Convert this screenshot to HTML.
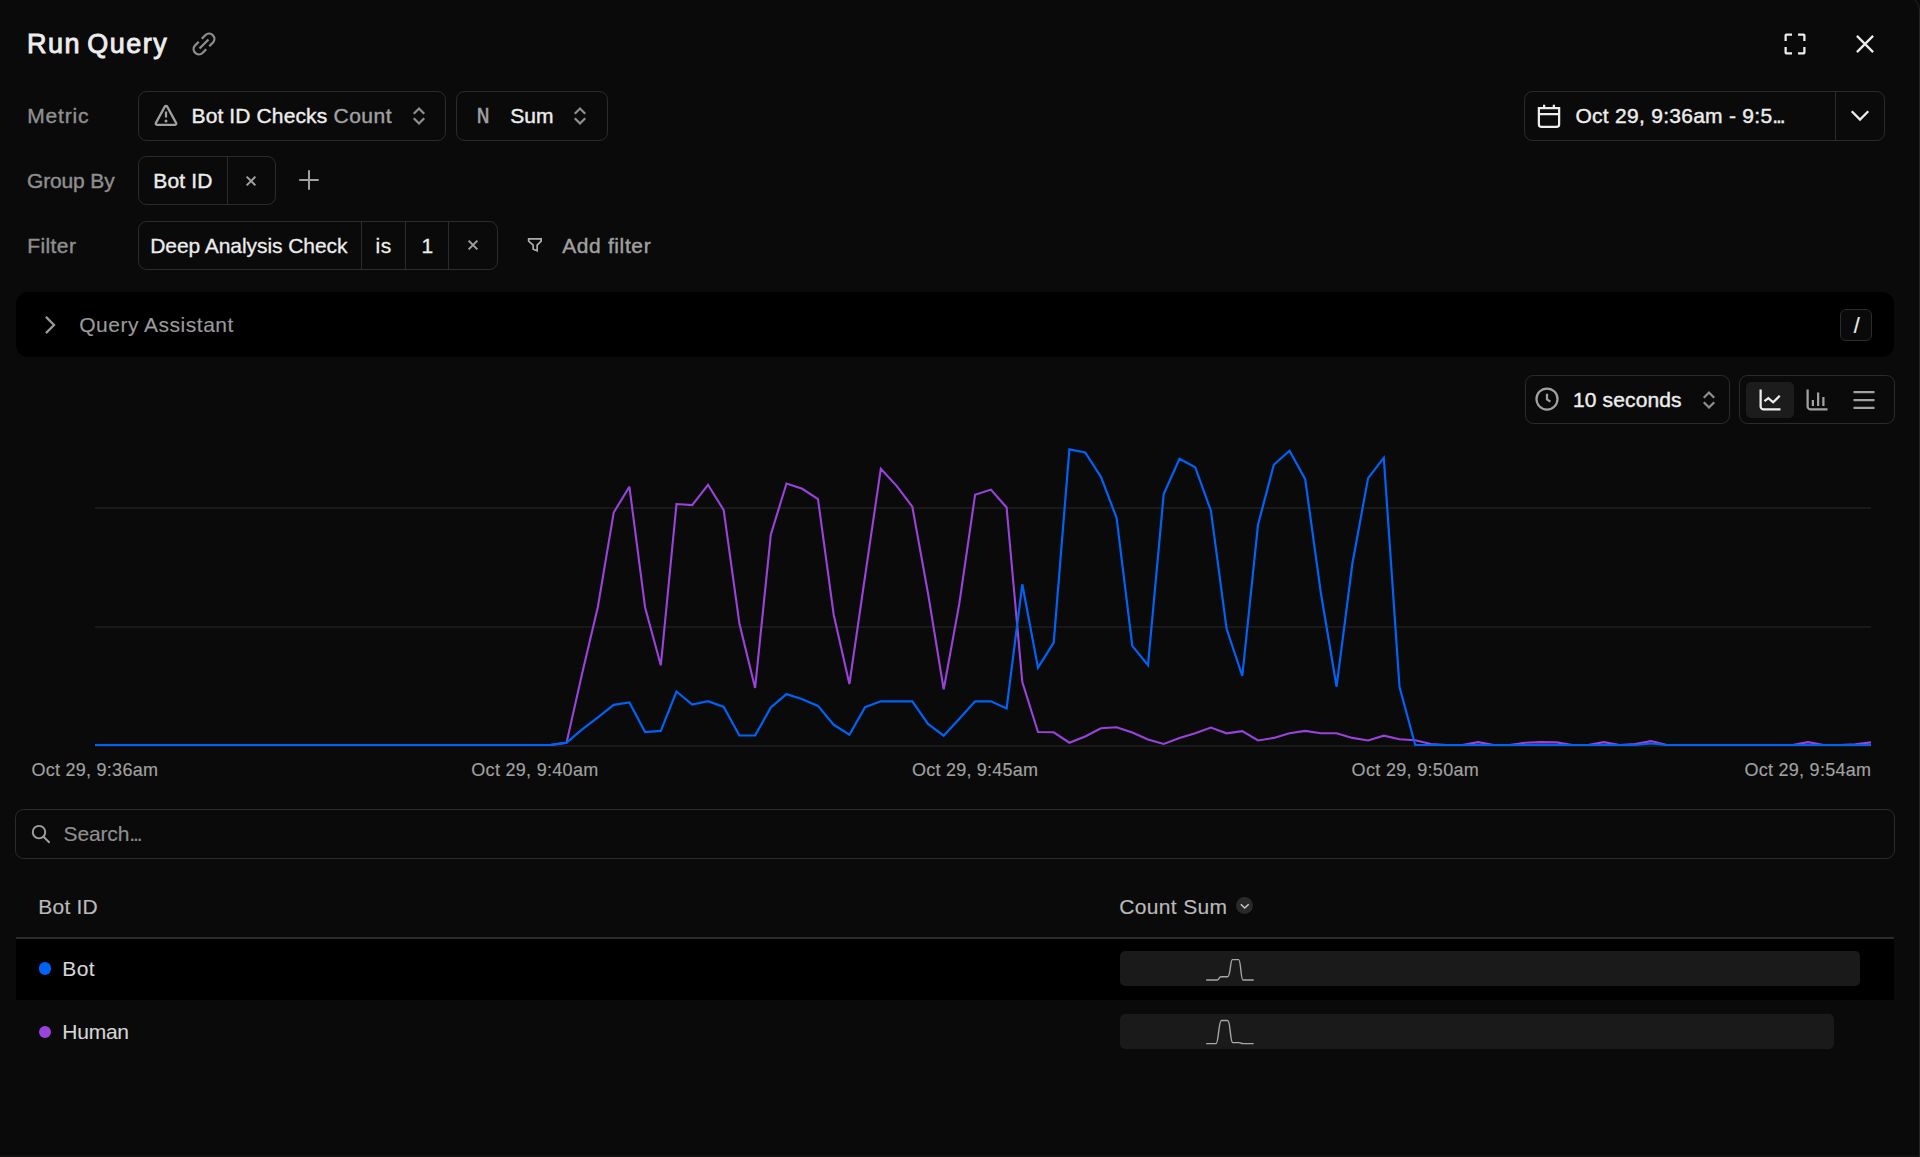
<!DOCTYPE html>
<html lang="en"><head><meta charset="utf-8"><title>Run Query</title>
<style>
html,body{margin:0;padding:0;background:#0a0a0a;}
body{width:1920px;height:1157px;overflow:hidden;position:relative;font-family:"Liberation Sans",sans-serif;color:#ededed;}
.t{position:absolute;white-space:pre;display:block;}
.bx{position:absolute;box-sizing:border-box;border:1px solid #2c2c2c;border-radius:8.5px;background:#0a0a0a;}
.ic{position:absolute;display:block;overflow:visible;}
.dv{position:absolute;width:1px;background:#2c2c2c;}
.abs{position:absolute;}
</style></head><body>

<div class="abs" style="left:-40px;top:-4px;width:1959.5px;height:1300px;box-sizing:border-box;border:1px solid #242424;border-radius:14px;"></div>
<div class="abs" style="left:0;top:1155px;width:1919px;height:2px;background:#111;"></div>
<span id="title" class="t" style="left:27.10px;top:25.00px;font-size:27px;line-height:38px;color:#ededed;font-weight:400;font-family:'Liberation Sans', sans-serif;letter-spacing:1.500px;-webkit-text-stroke:0.9px #ededed;word-spacing:-3px;">Run Query</span>
<svg class="ic" style="left:191.8px;top:31.6px" width="24" height="24" viewBox="0 0 16 16" fill="none" stroke="#8f8f8f" stroke-width="1.5" ><path d="M6.5 4.5 9 2a3.54 3.54 0 0 1 5 5L11.5 9.5M9.5 11.5 7 14a3.54 3.54 0 0 1-5-5L4.5 6.5M5 11 11 5" stroke-linecap="butt"/></svg>
<svg class="ic" style="left:1782.6px;top:31.8px" width="24" height="24" viewBox="0 0 16 16" fill="none" stroke="#ededed" stroke-width="1.5" ><path d="M1.75 6V2.35a.6.6 0 0 1 .6-.6H6M10 1.75h3.65a.6.6 0 0 1 .6.6V6M14.25 10v3.65a.6.6 0 0 1-.6.6H10M6 14.25H2.35a.6.6 0 0 1-.6-.6V10" /></svg>
<svg class="ic" style="left:1853.3px;top:31.7px" width="24" height="24" viewBox="0 0 16 16" fill="none" stroke="#ededed" stroke-width="1.5" ><path d="M2.6 2.6 13.4 13.4M13.4 2.6 2.6 13.4"/></svg>
<span id="l_metric" class="t" style="left:27.20px;top:101.00px;font-size:21px;line-height:29px;color:#8f8f8f;font-weight:400;font-family:'Liberation Sans', sans-serif;letter-spacing:0.820px;-webkit-text-stroke:0.4px #8f8f8f;">Metric</span>
<div class="bx" style="left:138px;top:91px;width:308px;height:50px;"></div>
<svg class="ic" style="left:153.6px;top:104px" width="24" height="24" viewBox="0 0 16 16" fill="none" stroke="#a1a1a1" stroke-width="1.5" ><path d="M7.3 1.6a.8.8 0 0 1 1.4 0l6.1 11.15a.8.8 0 0 1-.7 1.15H1.9a.8.8 0 0 1-.7-1.15Z" stroke-linejoin="round"/><path d="M8 5v4" /><circle cx="8" cy="11.25" r="1" fill="#a1a1a1" stroke="none"/></svg>
<span id="m_bot" class="t" style="left:191.50px;top:101.00px;font-size:21px;line-height:29px;color:#ededed;font-weight:400;font-family:'Liberation Sans', sans-serif;letter-spacing:0.125px;-webkit-text-stroke:0.4px #ededed;">Bot ID Checks</span>
<span id="m_count" class="t" style="left:333.50px;top:101.00px;font-size:21px;line-height:29px;color:#a1a1a1;font-weight:400;font-family:'Liberation Sans', sans-serif;letter-spacing:0.500px;-webkit-text-stroke:0.4px #a1a1a1;">Count</span>
<svg class="ic" style="left:406.5px;top:104px" width="24" height="24" viewBox="0 0 16 16" fill="none" stroke="#8f8f8f" stroke-width="1.5" ><path d="M5.05 5.95 8 3 10.95 5.95M5.05 10.05 8 13 10.95 10.05" stroke-linecap="square" stroke-linejoin="miter"/></svg>
<div class="bx" style="left:456px;top:91px;width:152px;height:50px;"></div>
<span id="m_n" class="t" style="left:476.55px;top:102.00px;font-size:22px;line-height:31px;color:#a1a1a1;font-weight:400;font-family:'Liberation Mono', monospace;letter-spacing:0.000px;-webkit-text-stroke:0.4px #a1a1a1;">N</span>
<span id="m_sum" class="t" style="left:510.30px;top:101.00px;font-size:21px;line-height:29px;color:#ededed;font-weight:400;font-family:'Liberation Sans', sans-serif;letter-spacing:-0.050px;-webkit-text-stroke:0.4px #ededed;">Sum</span>
<svg class="ic" style="left:568.3px;top:104px" width="24" height="24" viewBox="0 0 16 16" fill="none" stroke="#8f8f8f" stroke-width="1.5" ><path d="M5.05 5.95 8 3 10.95 5.95M5.05 10.05 8 13 10.95 10.05" stroke-linecap="square" stroke-linejoin="miter"/></svg>
<div class="bx" style="left:1524px;top:91px;width:361px;height:50px;"></div>
<div class="dv" style="left:1835px;top:92px;height:48px"></div>
<svg class="ic" style="left:1537px;top:104px" width="24" height="24" viewBox="0 0 16 16" fill="none" stroke="#ededed" stroke-width="1.5" ><path d="M1.25 2.75h13.5V13.5a1.75 1.75 0 0 1-1.75 1.75H3a1.75 1.75 0 0 1-1.75-1.75ZM1.25 6.75h13.5M4.75 .5v2.25M11.25 .5v2.25"/></svg>
<span id="date" class="t" style="left:1575.50px;top:101.00px;font-size:21px;line-height:29px;color:#ededed;font-weight:400;font-family:'Liberation Sans', sans-serif;letter-spacing:0.270px;-webkit-text-stroke:0.4px #ededed;">Oct 29, 9:36am - 9:5<span style="letter-spacing:-2.1px">...</span></span>
<svg class="ic" style="left:1847.5px;top:104px" width="24" height="24" viewBox="0 0 16 16" fill="none" stroke="#ededed" stroke-width="1.5" ><path d="M3 5.4 8 10.4 13 5.4" stroke-linecap="square"/></svg>
<span id="l_group" class="t" style="left:27.00px;top:166.00px;font-size:21px;line-height:29px;color:#8f8f8f;font-weight:400;font-family:'Liberation Sans', sans-serif;letter-spacing:-0.143px;-webkit-text-stroke:0.4px #8f8f8f;">Group By</span>
<div class="bx" style="left:138px;top:156px;width:138px;height:49px;"></div>
<div class="dv" style="left:227px;top:157px;height:47px"></div>
<span id="g_bot" class="t" style="left:153.30px;top:166.00px;font-size:21px;line-height:29px;color:#ededed;font-weight:400;font-family:'Liberation Sans', sans-serif;letter-spacing:0.140px;-webkit-text-stroke:0.4px #ededed;">Bot ID</span>
<svg class="ic" style="left:238.6px;top:169px" width="24" height="24" viewBox="0 0 16 16" fill="none" stroke="#a1a1a1" stroke-width="1.35" ><path d="M5.1 5.1 10.9 10.9M10.9 5.1 5.1 10.9"/></svg>
<svg class="ic" style="left:297.4px;top:168.4px" width="24" height="24" viewBox="0 0 16 16" fill="none" stroke="#a1a1a1" stroke-width="1.35" ><path d="M8 1.5v13M1.5 8h13"/></svg>
<span id="l_filter" class="t" style="left:27.25px;top:231.00px;font-size:21px;line-height:29px;color:#8f8f8f;font-weight:400;font-family:'Liberation Sans', sans-serif;letter-spacing:0.400px;-webkit-text-stroke:0.4px #8f8f8f;">Filter</span>
<div class="bx" style="left:138px;top:221px;width:360px;height:49px;"></div>
<div class="dv" style="left:361px;top:222px;height:47px"></div>
<div class="dv" style="left:405px;top:222px;height:47px"></div>
<div class="dv" style="left:448px;top:222px;height:47px"></div>
<span id="f_deep" class="t" style="left:150.25px;top:231.00px;font-size:21px;line-height:29px;color:#ededed;font-weight:400;font-family:'Liberation Sans', sans-serif;letter-spacing:-0.069px;-webkit-text-stroke:0.28px #ededed;">Deep Analysis Check</span>
<span id="f_is" class="t" style="left:375.60px;top:231.00px;font-size:21px;line-height:29px;color:#ededed;font-weight:400;font-family:'Liberation Sans', sans-serif;letter-spacing:0.400px;-webkit-text-stroke:0.28px #ededed;">is</span>
<span id="f_1" class="t" style="left:421.40px;top:231.00px;font-size:21px;line-height:29px;color:#ededed;font-weight:400;font-family:'Liberation Sans', sans-serif;letter-spacing:0.000px;-webkit-text-stroke:0.28px #ededed;">1</span>
<svg class="ic" style="left:461.2px;top:233.3px" width="24" height="24" viewBox="0 0 16 16" fill="none" stroke="#a1a1a1" stroke-width="1.35" ><path d="M5.1 5.1 10.9 10.9M10.9 5.1 5.1 10.9"/></svg>
<svg class="ic" style="left:520px;top:230px" width="30" height="30" viewBox="520 230 30 30" fill="none" stroke="#adadad" stroke-width="1.7"><path d="M528.65 238.85H541.15V241.1L537.15 245.2V250.8L533.15 249.2V245.2L528.65 241.1Z"/></svg>
<span id="f_add" class="t" style="left:562.20px;top:231.00px;font-size:21px;line-height:29px;color:#a1a1a1;font-weight:400;font-family:'Liberation Sans', sans-serif;letter-spacing:0.622px;-webkit-text-stroke:0.4px #a1a1a1;">Add filter</span>
<div class="abs" style="left:16px;top:292px;width:1878px;height:65px;background:#000;border-radius:12px;"></div>
<svg class="ic" style="left:37.8px;top:312.8px" width="24" height="24" viewBox="0 0 16 16" fill="none" stroke="#9a9a9a" stroke-width="1.5" ><path d="M5.8 3.1 10.7 8 5.8 12.9" stroke-linecap="square"/></svg>
<span id="qa" class="t" style="left:79.20px;top:310.00px;font-size:21px;line-height:29px;color:#9a9a9a;font-weight:400;font-family:'Liberation Sans', sans-serif;letter-spacing:0.507px;-webkit-text-stroke:0.15px #9a9a9a;">Query Assistant</span>
<div class="bx" style="left:1840px;top:309px;width:32px;height:32px;border-radius:6px;background:#0a0a0a;"></div>
<span id="slash" class="t" style="left:1853.80px;top:311.00px;font-size:21.5px;line-height:30px;color:#ededed;font-weight:400;font-family:'Liberation Sans', sans-serif;letter-spacing:0.000px;-webkit-text-stroke:0.2px #ededed;">/</span>
<div class="bx" style="left:1525px;top:375px;width:205px;height:49px;"></div>
<svg class="ic" style="left:1535px;top:387.4px" width="24" height="24" viewBox="0 0 16 16" fill="none" stroke="#a1a1a1" stroke-width="1.5" ><circle cx="8" cy="8" r="7"/><path d="M8 4.5V8.25L10.25 9.75"/></svg>
<span id="secs" class="t" style="left:1573.00px;top:385.00px;font-size:21px;line-height:29px;color:#ededed;font-weight:400;font-family:'Liberation Sans', sans-serif;letter-spacing:0.133px;-webkit-text-stroke:0.4px #ededed;">10 seconds</span>
<svg class="ic" style="left:1696.5px;top:387.7px" width="24" height="24" viewBox="0 0 16 16" fill="none" stroke="#8f8f8f" stroke-width="1.5" ><path d="M5.05 5.95 8 3 10.95 5.95M5.05 10.05 8 13 10.95 10.05" stroke-linecap="square" stroke-linejoin="miter"/></svg>
<div class="bx" style="left:1739px;top:375px;width:156px;height:49px;"></div>
<div class="abs" style="left:1746px;top:382px;width:47.5px;height:35.5px;border-radius:5px;background:#1c1c1c"></div>
<svg class="ic" style="left:1757.5px;top:387.5px" width="24" height="24" viewBox="0 0 16 16" fill="none" stroke="#ededed" stroke-width="1.5" ><path d="M1.75 1V12.25a2 2 0 0 0 2 2H15"/><path d="M4.3 8.8 6.9 6.75 10.1 9.5 14.5 5.2" /></svg>
<svg class="ic" style="left:1804.5px;top:387.5px" width="24" height="24" viewBox="0 0 16 16" fill="none" stroke="#a1a1a1" stroke-width="1.5" ><path d="M1.75 1V12.25a2 2 0 0 0 2 2H15"/><path d="M5.25 8v4M8.75 3v9M12.25 6v6"/></svg>
<svg class="ic" style="left:1852.4px;top:387.5px" width="24" height="24" viewBox="0 0 16 16" fill="none" stroke="#a1a1a1" stroke-width="1.5" ><path d="M1 2.75h14M1 8h14M1 13.25h14"/></svg>
<svg class="abs" style="left:0;top:430px" width="1920" height="330" viewBox="0 430 1920 330" fill="none">
<line x1="95" x2="1871" y1="507.9" y2="507.9" stroke="#1f1f1f" stroke-width="1.5"/>
<line x1="95" x2="1871" y1="626.9" y2="626.9" stroke="#1f1f1f" stroke-width="1.5"/>
<line x1="95" x2="1871" y1="745.9" y2="745.9" stroke="#1f1f1f" stroke-width="1.5"/>
<polyline points="95.0,745.0 110.7,745.0 126.4,745.0 142.2,745.0 157.9,745.0 173.6,745.0 189.3,745.0 205.0,745.0 220.7,745.0 236.5,745.0 252.2,745.0 267.9,745.0 283.6,745.0 299.3,745.0 315.0,745.0 330.8,745.0 346.5,745.0 362.2,745.0 377.9,745.0 393.6,745.0 409.3,745.0 425.1,745.0 440.8,745.0 456.5,745.0 472.2,745.0 487.9,745.0 503.6,745.0 519.4,745.0 535.1,745.0 550.8,745.0 566.5,742.9 582.2,673.3 597.9,606.7 613.7,512.5 629.4,486.7 645.1,607.5 660.8,665.3 676.5,504.0 692.2,505.1 708.0,484.8 723.7,510.1 739.4,623.5 755.1,688.0 770.8,534.7 786.5,483.5 802.3,488.8 818.0,499.2 833.7,614.7 849.4,684.0 865.1,576.0 880.8,468.8 896.6,485.9 912.3,506.7 928.0,593.3 943.7,689.3 959.4,603.2 975.1,494.7 990.9,489.6 1006.6,507.5 1022.3,682.1 1038.0,732.0 1053.7,732.3 1069.4,742.7 1085.2,736.5 1100.9,728.3 1116.6,727.2 1132.3,732.5 1148.0,739.5 1163.7,744.0 1179.5,738.1 1195.2,733.3 1210.9,727.5 1226.6,733.3 1242.3,731.2 1258.0,740.5 1273.8,737.9 1289.5,733.3 1305.2,730.9 1320.9,733.3 1336.6,733.3 1352.3,737.9 1368.1,740.5 1383.8,735.7 1399.5,739.2 1415.2,740.3 1430.9,744.0 1446.6,745.0 1462.4,745.0 1478.1,742.1 1493.8,745.0 1509.5,745.0 1525.2,742.7 1540.9,742.1 1556.7,742.4 1572.4,745.0 1588.1,745.0 1603.8,742.1 1619.5,745.0 1635.2,744.0 1651.0,741.1 1666.7,745.0 1682.4,745.0 1698.1,745.0 1713.8,745.0 1729.5,745.0 1745.3,745.0 1761.0,745.0 1776.7,745.0 1792.4,745.0 1808.1,742.1 1823.8,745.0 1839.6,745.0 1855.3,744.3 1871.0,742.4" stroke="#9a43dc" stroke-width="2.1" stroke-linejoin="miter" stroke-miterlimit="3"/>
<polyline points="95.0,745.0 110.7,745.0 126.4,745.0 142.2,745.0 157.9,745.0 173.6,745.0 189.3,745.0 205.0,745.0 220.7,745.0 236.5,745.0 252.2,745.0 267.9,745.0 283.6,745.0 299.3,745.0 315.0,745.0 330.8,745.0 346.5,745.0 362.2,745.0 377.9,745.0 393.6,745.0 409.3,745.0 425.1,745.0 440.8,745.0 456.5,745.0 472.2,745.0 487.9,745.0 503.6,745.0 519.4,745.0 535.1,745.0 550.8,744.8 566.5,742.7 582.2,729.3 597.9,717.3 613.7,704.8 629.4,702.4 645.1,732.0 660.8,730.9 676.5,691.5 692.2,704.5 708.0,701.1 723.7,706.9 739.4,735.5 755.1,735.5 770.8,707.5 786.5,694.1 802.3,699.2 818.0,705.9 833.7,724.8 849.4,734.7 865.1,707.2 880.8,701.3 896.6,701.3 912.3,701.3 928.0,724.0 943.7,735.7 959.4,718.7 975.1,701.3 990.9,701.3 1006.6,708.5 1022.3,584.3 1038.0,667.7 1053.7,642.7 1069.4,449.3 1085.2,452.5 1100.9,476.8 1116.6,517.9 1132.3,645.9 1148.0,665.3 1163.7,494.1 1179.5,458.7 1195.2,467.2 1210.9,510.7 1226.6,628.8 1242.3,676.0 1258.0,524.8 1273.8,464.8 1289.5,450.7 1305.2,479.2 1320.9,593.3 1336.6,686.7 1352.3,564.0 1368.1,478.1 1383.8,457.9 1399.5,686.7 1415.2,745.0 1430.9,745.0 1446.6,745.0 1462.4,745.0 1478.1,745.0 1493.8,745.0 1509.5,745.0 1525.2,745.0 1540.9,745.0 1556.7,745.0 1572.4,745.0 1588.1,745.0 1603.8,745.0 1619.5,745.0 1635.2,745.0 1651.0,743.5 1666.7,745.0 1682.4,745.0 1698.1,745.0 1713.8,745.0 1729.5,745.0 1745.3,745.0 1761.0,745.0 1776.7,745.0 1792.4,745.0 1808.1,745.0 1823.8,745.0 1839.6,745.0 1855.3,745.0 1871.0,745.0" stroke="#0062f6" stroke-width="2.2" stroke-linejoin="miter" stroke-miterlimit="3"/>
</svg>
<span id="ax0" class="t" style="left:31.50px;top:757.50px;font-size:18px;line-height:25px;color:#a1a1a1;font-weight:400;font-family:'Liberation Sans', sans-serif;letter-spacing:0.258px;-webkit-text-stroke:0.15px #a1a1a1;">Oct 29, 9:36am</span>
<span id="ax1" class="t" style="left:471.30px;top:757.50px;font-size:18px;line-height:25px;color:#a1a1a1;font-weight:400;font-family:'Liberation Sans', sans-serif;letter-spacing:0.297px;-webkit-text-stroke:0.15px #a1a1a1;">Oct 29, 9:40am</span>
<span id="ax2" class="t" style="left:912.00px;top:757.50px;font-size:18px;line-height:25px;color:#a1a1a1;font-weight:400;font-family:'Liberation Sans', sans-serif;letter-spacing:0.231px;-webkit-text-stroke:0.15px #a1a1a1;">Oct 29, 9:45am</span>
<span id="ax3" class="t" style="left:1351.60px;top:757.50px;font-size:18px;line-height:25px;color:#a1a1a1;font-weight:400;font-family:'Liberation Sans', sans-serif;letter-spacing:0.320px;-webkit-text-stroke:0.15px #a1a1a1;">Oct 29, 9:50am</span>
<span id="ax4" class="t" style="left:1744.40px;top:757.50px;font-size:18px;line-height:25px;color:#a1a1a1;font-weight:400;font-family:'Liberation Sans', sans-serif;letter-spacing:0.274px;-webkit-text-stroke:0.15px #a1a1a1;">Oct 29, 9:54am</span>
<div class="bx" style="left:15px;top:809px;width:1880px;height:50px;"></div>
<svg class="ic" style="left:28px;top:822px" width="26" height="26" viewBox="28 822 26 26" fill="none" stroke="#a1a1a1" stroke-width="1.9"><circle cx="39" cy="832.1" r="6.25"/><path d="M43.5 836.7 49.6 842.7"/></svg>
<span id="search" class="t" style="left:63.60px;top:819.00px;font-size:21px;line-height:29px;color:#8f8f8f;font-weight:400;font-family:'Liberation Sans', sans-serif;letter-spacing:-0.164px;-webkit-text-stroke:0.15px #8f8f8f;">Search<span style="letter-spacing:-2.1px">...</span></span>
<span id="h_bot" class="t" style="left:38.30px;top:892.00px;font-size:21px;line-height:29px;color:#bababa;font-weight:400;font-family:'Liberation Sans', sans-serif;letter-spacing:0.200px;-webkit-text-stroke:0.15px #bababa;">Bot ID</span>
<span id="h_cs" class="t" style="left:1119.20px;top:892.00px;font-size:21px;line-height:29px;color:#bababa;font-weight:400;font-family:'Liberation Sans', sans-serif;letter-spacing:0.350px;-webkit-text-stroke:0.15px #bababa;">Count Sum</span>
<div class="abs" style="left:1235.9px;top:897px;width:17.2px;height:17.2px;border-radius:50%;background:#2a2a2a"></div>
<svg class="ic" style="left:1236px;top:897px" width="18" height="18" viewBox="1236 897 18 18" fill="none" stroke="#c8c8c8" stroke-width="1.5"><path d="M1240.8 904.2 1244.7 908 1248.7 904.2"/></svg>
<div class="abs" style="left:16px;top:937px;width:1878px;height:1.5px;background:#2b2b2b"></div>
<div class="abs" style="left:16px;top:938.5px;width:1878px;height:61.5px;background:#000"></div>
<div class="abs" style="left:38.8px;top:962.2px;width:12.4px;height:12.4px;border-radius:50%;background:#0062f6"></div>
<span id="r_bot" class="t" style="left:62.30px;top:954.00px;font-size:21px;line-height:29px;color:#d6d6d6;font-weight:400;font-family:'Liberation Sans', sans-serif;letter-spacing:0.350px;-webkit-text-stroke:0.1px #d6d6d6;">Bot</span>
<div class="abs" style="left:1120px;top:951px;width:740px;height:35px;border-radius:5px;background:#1a1a1a"></div>
<div class="abs" style="left:38.8px;top:1025.7px;width:12.4px;height:12.4px;border-radius:50%;background:#9a43dc"></div>
<span id="r_human" class="t" style="left:62.30px;top:1017.00px;font-size:21px;line-height:29px;color:#d6d6d6;font-weight:400;font-family:'Liberation Sans', sans-serif;letter-spacing:-0.250px;-webkit-text-stroke:0.1px #d6d6d6;">Human</span>
<div class="abs" style="left:1120px;top:1014px;width:714px;height:35px;border-radius:5px;background:#1a1a1a"></div>
<svg class="abs" style="left:1200px;top:950px" width="60" height="100" viewBox="1200 950 60 100" fill="none" stroke="#a8a8a8" stroke-width="1.4" stroke-linejoin="round">
<path d="M1206.2 980H1217.2C1219 980 1219 976.8 1221 976.8H1227.6C1230.6 976.8 1230.2 959.6 1232.4 959.6H1238.6C1241 959.6 1240.6 980 1243 980H1253.7"/>
<path d="M1206.2 1043.6H1216C1218.6 1043.6 1218.6 1020.5 1221.4 1020.5H1227.6C1230.6 1020.5 1230 1042.6 1232.8 1042.6H1239C1241 1042.6 1241 1043.6 1243 1043.6H1253.7"/>
</svg>
</body></html>
